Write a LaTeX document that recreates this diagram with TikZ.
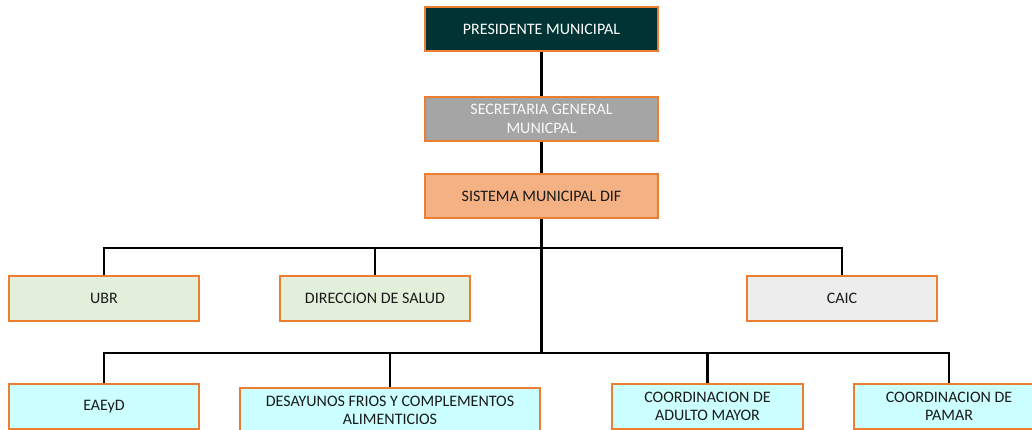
\documentclass[tikz,border=0pt]{standalone}
\usepackage{fontspec}
\setmainfont{Carlito}
\definecolor{bord}{HTML}{ED7D31}
\definecolor{presfill}{HTML}{003333}
\definecolor{secfill}{HTML}{A5A5A5}
\definecolor{sisfill}{HTML}{F4B183}
\definecolor{greenfill}{HTML}{E2EFDA}
\definecolor{grayfill}{HTML}{EDEDED}
\definecolor{cyanfill}{HTML}{CCFFFF}
\definecolor{txt}{HTML}{1A1A1A}
\begin{document}
\begin{tikzpicture}[x=1pt,y=-1pt,
  box/.style={draw=bord,line width=2pt,rectangle,inner sep=0pt,align=center,
    text=txt,font=\fontsize{16}{18.5}\selectfont},
  conn/.style={draw=black,line width=2.2pt}]
\useasboundingbox (0,0) rectangle (1032,430);
\clip (0,0) rectangle (1032,430);
\fill[white] (0,0) rectangle (1032,430);
% top chain
\node[box,fill=presfill,text=white,minimum width=233pt,minimum height=44pt] (pres) at (541.5,29) {PRESIDENTE MUNICIPAL};
\node[box,fill=secfill,text=white!95!gray,minimum width=233pt,minimum height=44pt] (sec) at (541.5,119) {SECRETARIA GENERAL\\MUNICPAL};
\node[box,fill=sisfill,minimum width=233pt,minimum height=44pt] (sis) at (541.5,196) {SISTEMA MUNICIPAL DIF};
% middle row
\node[box,fill=greenfill,minimum width=190pt,minimum height=45pt] (ubr) at (104,298.5) {UBR};
\node[box,fill=greenfill,minimum width=190pt,minimum height=45pt] (dir) at (375,298.5) {DIRECCION DE SALUD};
\node[box,fill=grayfill,minimum width=190pt,minimum height=45pt] (caic) at (842,298.5) {CAIC};
% bottom row
\node[box,fill=cyanfill,minimum width=190pt,minimum height=45pt] (eae) at (104,406.5) {EAEyD};
\node[box,fill=cyanfill,minimum width=300pt,minimum height=46pt] (des) at (390,410.5) {DESAYUNOS FRIOS Y COMPLEMENTOS\\ALIMENTICIOS};
\node[box,fill=cyanfill,minimum width=191pt,minimum height=45pt] (adu) at (707.5,406.5) {COORDINACION DE\\ADULTO MAYOR};
\node[box,fill=cyanfill,minimum width=190pt,minimum height=45pt] (pam) at (949,406.5) {COORDINACION DE\\PAMAR};
% bus coordinates
\coordinate (b1) at (541.5,248);
\coordinate (b2) at (541.5,353);
% connectors
\draw[conn] (pres.south) -- (sec.north);
\draw[conn] (sec.south) -- (sis.north);
\draw[conn] (sis.south) -- (b2);
\draw[conn] (ubr.north) -- (ubr.north |- b1) -- (caic.north |- b1) -- (caic.north);
\draw[conn] (dir.north) -- (dir.north |- b1);
\draw[conn] (eae.north) -- (eae.north |- b2) -- (pam.north |- b2) -- (pam.north);
\draw[conn] (des.north) -- (des.north |- b2);
\draw[conn] (adu.north) -- (adu.north |- b2);
\end{tikzpicture}
\end{document}
